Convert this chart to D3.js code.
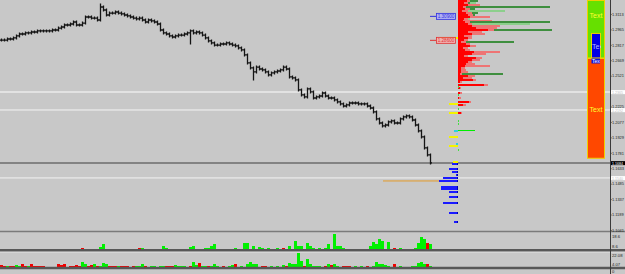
<!DOCTYPE html>
<html><head><meta charset="utf-8">
<script src="https://cdn.jsdelivr.net/npm/d3@7"></script>
<style>html,body{margin:0;padding:0;background:#c8c8c8;overflow:hidden}svg{display:block}</style>
</head><body><svg id="c" width="625" height="274"></svg>
<script>
// ---------- DATA ----------
const closes = [
1.2863,1.2863,1.2873,1.2873,1.2883,1.2902,1.2921,1.2921,1.2931,1.2931,
1.2940,1.2940,1.2950,1.2950,1.2950,1.2950,1.2950,1.2959,1.2959,1.2978,
1.2988,1.3007,1.3007,1.3017,1.3036,1.3007,1.3007,1.3026,1.3084,1.3084,
1.3074,1.3074,1.3055,1.3180,1.3151,1.3103,1.3122,1.3122,1.3132,1.3122,
1.3113,1.3103,1.3094,1.3084,1.3074,1.3065,1.3074,1.3055,1.3036,1.3055,
1.3046,1.3036,1.3017,1.2959,1.2931,1.2921,1.2902,1.2892,1.2902,1.2911,
1.2911,1.2921,1.2931,1.2950,1.2931,1.2940,1.2931,1.2911,1.2883,1.2854,
1.2835,1.2815,1.2815,1.2825,1.2825,1.2835,1.2825,1.2815,1.2806,1.2787,
1.2768,1.2720,1.2643,1.2595,1.2557,1.2604,1.2585,1.2576,1.2557,1.2528,
1.2547,1.2557,1.2566,1.2576,1.2604,1.2585,1.2509,1.2499,1.2480,1.2384,
1.2336,1.2317,1.2394,1.2365,1.2307,1.2317,1.2326,1.2355,1.2326,1.2307,
1.2307,1.2288,1.2269,1.2250,1.2230,1.2240,1.2259,1.2259,1.2259,1.2250,
1.2250,1.2250,1.2230,1.2211,1.2173,1.2106,1.2067,1.2039,1.2048,1.2077,
1.2087,1.2067,1.2067,1.2106,1.2125,1.2135,1.2125,1.2096,1.2048,1.1991,
1.1933,1.1828,1.1761,1.1684];
const spikeIdx = [33, 63, 84];
const spikePrice = [1.3199, 1.2835, 1.2489];

const ind1 = [
0,0,0,0,0,0,0,0,0,0,0,0,
0,0,0,0,0,0,0,0,0,0,0,0,
0,0,0,-1.5,0,0,0,0,0,2,5,0,
0,0,0,0,0,0,0,0,0,0,-1,1,
0,0,0,0,0,0,3,1,0,0,0,0,
0,0,0,2,3,0,0,0,1,1,3,5,
0,0,0,0,0,0,1,0,0,6,6,0,
3,0,2,1,0,1,0,0,1,0,-1,0,
3,0,8,3,3,0,6,3,1,0,1,0,
1,5,0,15,3,3,1,0,0,0,0,0,
0,0,0,3,7,5,10,8,0,7,0,-1,
0,1,0,0,0,0,1,6,12,10,-6,5];
const ind2 = [
-2,-1,1,-1,-1,2,1,-3,-1,1,-3,-1,
-1,-1,-1,0,0,0,0,-3,-2,-3,0,-1,
-1,-2,-1,5,3,-1,-2,3,-1,1,4,3,
-1,-1,-1,1,-1,-1,-1,0,-1,1,1,3,
-1,0,1,1,0,1,1,-1,-1,-1,2,1,
1,1,0,-1,5,2,-4,1,1,-1,1,3,
1,0,-1,0,1,2,-3,0,1,0,3,5,
3,3,0,-1,-1,0,1,0,1,0,2,-1,
4,3,3,14,6,-1,8,3,1,1,1,0,
-1,3,-2,3,1,0,-1,-1,-1,0,1,0,
1,0,-1,0,1,5,3,3,2,1,0,-3,
0,1,0,0,0,1,1,4,5,3,-3,1];

const priceTicks = ["1.3113","1.2965","1.2817","1.2669","1.2521","1.2373","1.2225","1.2077","1.1929","1.1781","1.1633","1.1485","1.1337","1.1189","1.1041"];
const ind1Labels = ["18.6","8.6"];
const ind2Labels = ["22.08","4.07","0"];

// volume profile rows
const profLevels = [1.3237,1.3218,1.3199,1.3180,1.3161,1.3142,1.3122,1.3103,1.3084,1.3065,1.3046,1.3036,1.3017,1.2998,1.2978,1.2959,1.2940,1.2921,1.2902,1.2883,1.2863,1.2844,1.2825,1.2806,1.2787,1.2768,1.2748,1.2729,1.2710,1.2691,1.2672,1.2652,1.2633,1.2614,1.2595,1.2576,1.2557,1.2537,1.2518,1.2499,1.2480,1.2461,1.2432,1.2403,1.2355,1.2307,1.2269,1.2240,1.2163];
const profSell    = [9,6,10,5,7,4,8,10,12,6,5,7,10,14,18,30,10,14,6,10,6,3,8,12,5,7,16,14,6,18,14,10,8,7,3,3,3,2,10,5,15,2,26,2,2,1,11,5,3];
const profSellAll = [12,10,22,8,12,10,14,15,32,10,34,12,14,42,39,36,24,27,14,14,10,8,12,18,10,12,42,28,10,24,22,14,17,32,7,8,10,4,17,14,18,4,30,3,4,3,13,8,4];
const profBuy     = [20,12,0,92,17,0,20,17,0,0,0,92,0,0,0,94,0,0,0,0,0,56,0,0,0,0,0,0,0,0,0,0,0,0,0,0,0,45,0,0,0,0,0,0,0,0,0,0,0];
const profBuyLight= [0,18,0,0,0,47,0,0,0,12,0,0,72,0,0,0,0,0,0,0,0,0,0,0,0,0,0,0,0,0,0,0,0,0,0,0,0,0,0,0,0,0,0,0,0,0,0,0,0];
const pulseLevel = 1.1997, pulseVol = 17;
const markLevels = [1.2883,1.2250,1.2163,1.1933,1.1847,1.1693,1.1991,1.1866];
const markVols   = [18,9,9,9,9,5,4,2];
const markKinds  = ["y","y","y","y","y","y","c","c"];
const bidLevels = [1.1674,1.1626,1.1597,1.1569,1.1540,1.1511,1.1454,1.1435,1.1406,1.1358,1.1300,1.1204,1.1118];
const bidVols   = [6,9,6,2,15,19,17,17,9,9,15,9,4];
const dotLevels = [1.2336,1.2202,1.2087,1.2058,1.1809,1.2413];

const tagPrices = [1.3090, 1.2860];
const tagTexts = ["1.30900","1.28600"];
const levelPrices = [1.2365, 1.2192, 1.1684, 1.1540];
const levelTexts = ["1.2365","1.2192","1.1684","1.1540"];
const orangeLevel = 1.1511;
const zoneTop = [1.3247, 1.2691, 1.2931];
const zoneBottom = [1.2691, 1.1729, 1.2691];
const zoneTexts = ["Text","Text","Tex"];

// ---------- DRAW ----------
const W = 625, H = 274;
const FONT = "Liberation Sans, Arial, sans-serif";
const svg = d3.select("#c");
svg.append("rect").attr("width",W).attr("height",H).attr("fill","#c8c8c8");

const y = d3.scaleLinear().domain([1.1031, 1.3247]).range([231, 0]);
const x = d3.scaleLinear().domain([0, closes.length-1]).range([1, 430]);
const y1 = d3.scaleLinear().domain([0,16]).range([249, 233]);
const y2 = d3.scaleLinear().domain([0,15]).range([266.5, 252]);
const px = d3.scaleLinear().domain([0,100]).range([458, 558]);
const pxl = d3.scaleLinear().domain([0,100]).range([458, 358]);

// horizontal level lines
svg.append("line").attr("x1",0).attr("x2",610).attr("y1",y(levelPrices[0])).attr("y2",y(levelPrices[0])).attr("stroke","#e2e2e2").attr("stroke-width",2);
svg.append("line").attr("x1",0).attr("x2",610).attr("y1",y(levelPrices[1])).attr("y2",y(levelPrices[1])).attr("stroke","#f4f4f4").attr("stroke-width",1);
svg.append("line").attr("x1",0).attr("x2",610).attr("y1",y(levelPrices[2])).attr("y2",y(levelPrices[2])).attr("stroke","#6c6c6c").attr("stroke-width",1.5);
svg.append("line").attr("x1",0).attr("x2",610).attr("y1",y(levelPrices[3])).attr("y2",y(levelPrices[3])).attr("stroke","#f2f2f2").attr("stroke-width",1);
svg.append("line").attr("x1",383).attr("x2",449).attr("y1",y(orangeLevel)).attr("y2",y(orangeLevel)).attr("stroke","#e39a2a").attr("stroke-width",1);

// bars (OHLC)
const bars = svg.append("g").attr("stroke","#141414").attr("fill","none");
closes.forEach((c,i)=>{
  const o = i>0 ? closes[i-1] : c;
  let hi = Math.max(o,c), lo = Math.min(o,c);
  const si = spikeIdx.indexOf(i);
  if (si>=0) { hi = Math.max(hi, spikePrice[si]); lo = Math.min(lo, spikePrice[si]); }
  const xx = Math.round(x(i)) + 0.5;
  bars.append("path").attr("stroke-width",1.3).attr("d",
    `M${xx},${y(hi)-1.5}V${y(lo)+1.5}M${xx-1.5},${y(o)}H${xx}M${xx},${y(c)}H${xx+1.5}`);
});

// volume profile
const pg = svg.append("g").attr("shape-rendering","crispEdges");
const rowH = 1.6;
profLevels.forEach((lv,i)=>{
  const yy = y(lv) - rowH/2;
  const segs = [];
  if (profBuy[i]) segs.push([profBuy[i], "#3f8f3f"]);
  if (profBuyLight[i]) segs.push([profBuyLight[i], "#8ccf8c"]);
  segs.push([profSellAll[i], "#ee7474"]);
  segs.push([profSell[i], "#ff0000"]);
  segs.sort((a,b)=>b[0]-a[0]);
  segs.forEach(s=>{
    pg.append("rect").attr("x",px(0)).attr("y",yy).attr("width",px(s[0])-px(0)).attr("height",rowH).attr("fill",s[1]);
  });
});
pg.append("rect").attr("x",px(0)).attr("y",y(pulseLevel)-0.75).attr("width",px(pulseVol)-px(0)).attr("height",1.5).attr("fill","#00ee00");
dotLevels.forEach(lv=>pg.append("rect").attr("x",px(0)-0.5).attr("y",y(lv)-0.75).attr("width",1).attr("height",1.5).attr("fill","#44dd44"));
// tag labels
tagPrices.forEach((p,i)=>{
  const yy = y(p);
  const col = i===0 ? "#3030e0" : "#e03030";
  const fill = i===0 ? "#b0b0f4" : "#f2b0b0";
  svg.append("line").attr("x1",430).attr("x2",436).attr("y1",yy).attr("y2",yy).attr("stroke",col).attr("stroke-width",1);
  svg.append("rect").attr("x",436.5).attr("y",yy-3).attr("width",19).attr("height",6).attr("fill",fill).attr("stroke",col).attr("stroke-width",0.8);
  svg.append("text").attr("x",446).attr("y",yy+1.6).attr("text-anchor","middle").attr("font-family",FONT).attr("font-size",4.6)
    .attr("fill",col).text(tagTexts[i]);
});
markLevels.forEach((lv,i)=>{
  pg.append("rect").attr("x",pxl(markVols[i])).attr("y",y(lv)-0.75).attr("width",pxl(0)-pxl(markVols[i])).attr("height",1.5)
    .attr("fill", markKinds[i]==="y" ? "#f4f400" : "#30d0e0");
});
bidLevels.forEach((lv,i)=>{
  pg.append("rect").attr("x",pxl(bidVols[i])).attr("y",y(lv)-0.8).attr("width",pxl(0)-pxl(bidVols[i])).attr("height",1.6).attr("fill","#1a1aff");
  pg.append("rect").attr("x",pxl(1.5)).attr("y",y(lv)-1).attr("width",pxl(0)-pxl(1.5)).attr("height",2).attr("fill","#0000b0");
});

// right zones
const zx = [587, 587, 591], zw = [17, 17, 9];
const zFill = ["#66e000","#ff4800","#0000e6"];
[0,1,2].forEach(i=>{
  svg.append("rect").attr("x",zx[i]+0.5).attr("y",y(zoneTop[i])+0.5).attr("width",zw[i]).attr("height",y(zoneBottom[i])-y(zoneTop[i])-0.5)
    .attr("fill",zFill[i]).attr("stroke","#f0d000").attr("stroke-width",1);
});
svg.append("text").attr("x",596).attr("y",18).attr("text-anchor","middle").attr("font-family",FONT).attr("font-size",7).attr("fill","#ffff30").text(zoneTexts[0]);
svg.append("text").attr("x",596).attr("y",111.5).attr("text-anchor","middle").attr("font-family",FONT).attr("font-size",7).attr("fill","#ffff30").text(zoneTexts[1]);
const clip = svg.append("clipPath").attr("id","bclip");
clip.append("rect").attr("x",591).attr("y",y(zoneTop[2])).attr("width",10).attr("height",40);
svg.append("text").attr("clip-path","url(#bclip)").attr("x",592).attr("y",49).attr("font-family",FONT).attr("font-size",7).attr("fill","#b8b8ff").text(zoneTexts[2]);
svg.append("rect").attr("x",591.5).attr("y",y(zoneBottom[2])+0.5).attr("width",8.5).attr("height",5).attr("fill","#1010e0");
svg.append("text").attr("clip-path","url(#bclip)").attr("x",592).attr("y",y(zoneBottom[2])+5).attr("font-family",FONT).attr("font-size",5).attr("fill","#ffffff").text(zoneTexts[2]);

// indicator windows
const ig = svg.append("g").attr("shape-rendering","crispEdges");
ind1.forEach((v,i)=>{ if(!v) return;
  ig.append("rect").attr("x",x(i)-1).attr("width",3).attr("y",y1(Math.abs(v))).attr("height",y1(0)-y1(Math.abs(v))).attr("fill",v>0?"#00f000":"#f00000");
});
ind2.forEach((v,i)=>{ if(!v) return;
  ig.append("rect").attr("x",x(i)-1).attr("width",3).attr("y",y2(Math.abs(v))).attr("height",y2(0)-y2(Math.abs(v))).attr("fill",v>0?"#00f000":"#f00000");
});

// separators
svg.append("line").attr("x1",0).attr("x2",W).attr("y1",231.5).attr("y2",231.5).attr("stroke","#7a7a7a").attr("stroke-width",1.5);
svg.append("line").attr("x1",0).attr("x2",W).attr("y1",250.3).attr("y2",250.3).attr("stroke","#585858").attr("stroke-width",2.5);
svg.append("line").attr("x1",0).attr("x2",W).attr("y1",252.3).attr("y2",252.3).attr("stroke","#dadada").attr("stroke-width",1);
svg.append("line").attr("x1",0).attr("x2",W).attr("y1",268).attr("y2",268).attr("stroke","#585858").attr("stroke-width",2.5);

// right axis (tick labels hidden where a level label box sits on them, as in the terminal)
const covered = v => levelPrices.some(p => Math.abs(y(p) - y(v)) < 2);
const axis = d3.axisRight(y).tickValues(priceTicks.map(Number))
  .tickFormat(v => covered(v) ? "" : d3.format(".4f")(v)).tickSize(1.5).tickPadding(0.5);
const ag = svg.append("g").attr("transform","translate(610,0)").call(axis);
ag.select(".domain").remove();
ag.selectAll("text").attr("font-family",FONT).attr("font-size",3.9).attr("fill","#222");
ag.selectAll("line").attr("stroke","#333");
svg.append("line").attr("x1",610.5).attr("x2",610.5).attr("y1",0).attr("y2",H).attr("stroke","#3a3a3a").attr("stroke-width",1);

levelPrices.forEach((p,i)=>{
  const dark = i===2;
  svg.append("rect").attr("x",611).attr("y",y(p)-1.8).attr("width",14).attr("height",4).attr("fill",dark?"#000":"#fff");
  svg.append("text").attr("x",612).attr("y",y(p)+1.6).attr("font-family",FONT).attr("font-size",3.6)
    .attr("fill",dark?"#fff":"#c0c0c0").text(levelTexts[i]);
});
const subY = [237.5, 247.5, 256.5, 266, 272.5];
ind1Labels.concat(ind2Labels).forEach((t,i)=>{
  svg.append("text").attr("x",612).attr("y",subY[i]).attr("font-family",FONT).attr("font-size",4.2).attr("fill","#222").text(t);
});
</script></body></html>
